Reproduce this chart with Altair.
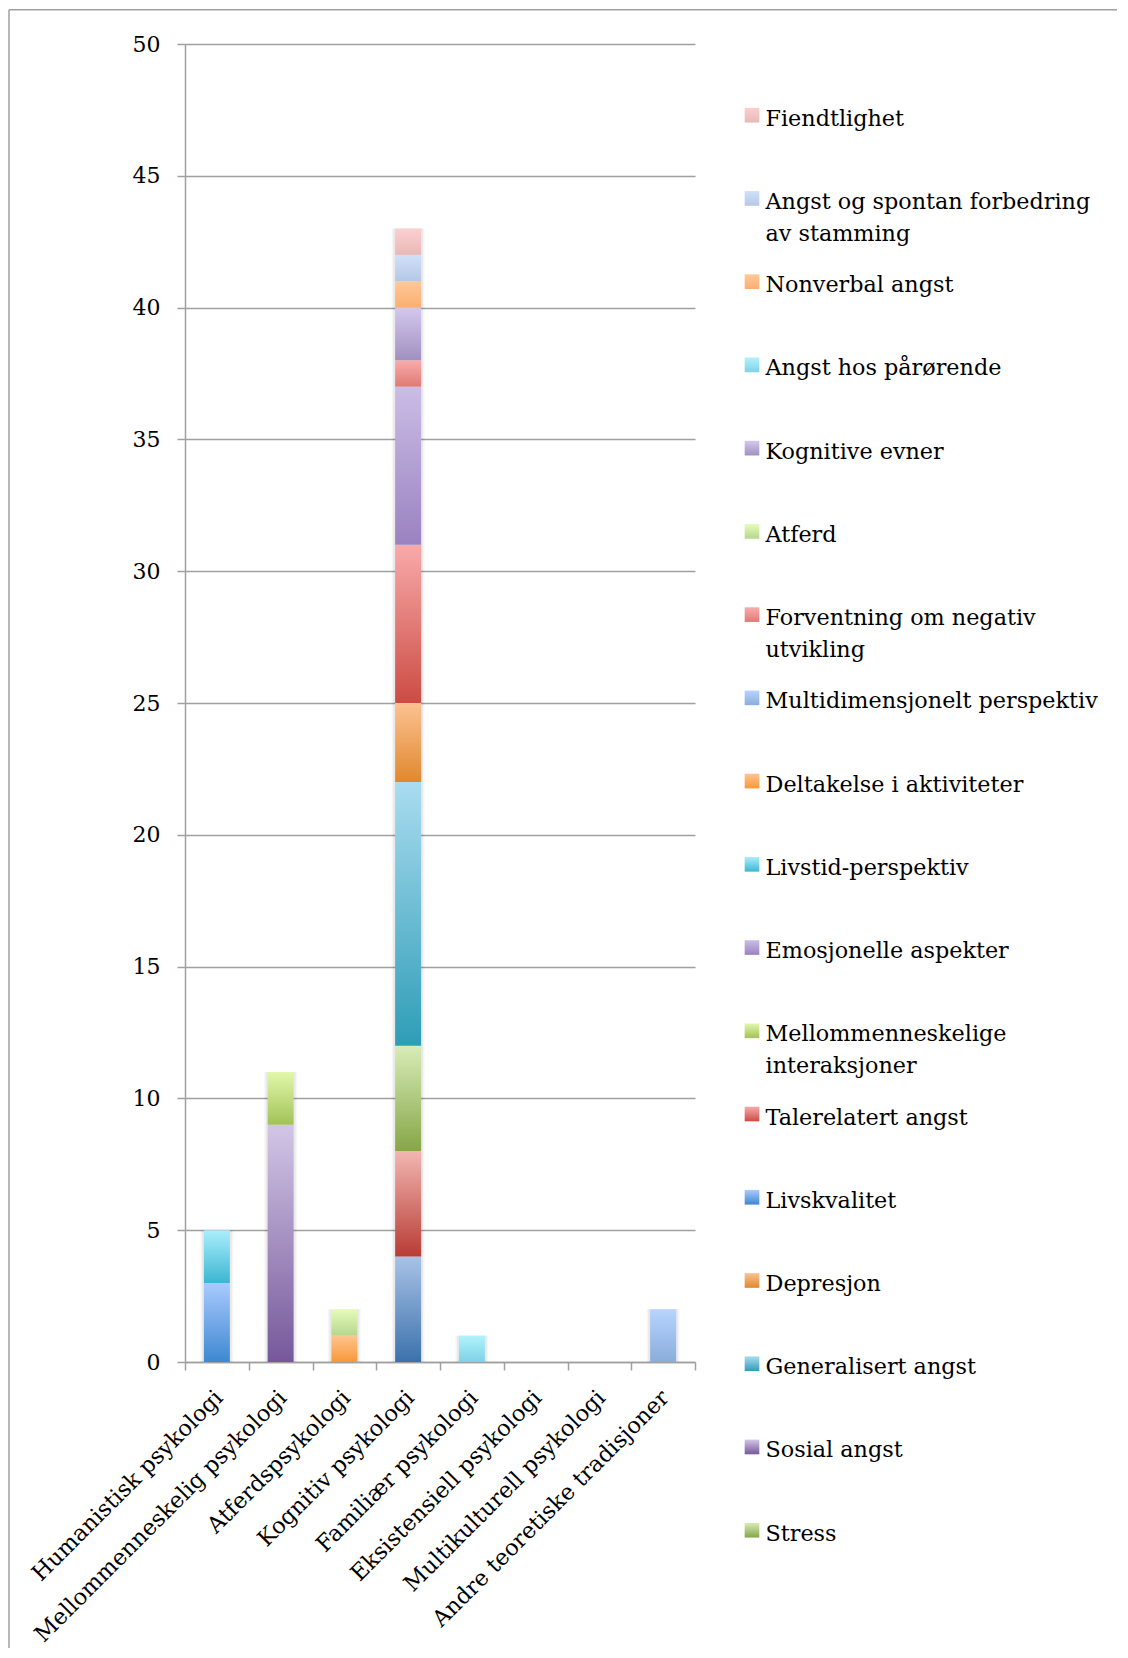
import altair as alt
import pandas as pd

# ---------------- data ----------------
categories = [
    "Humanistisk psykologi",
    "Mellommenneskelig psykologi",
    "Atferdspsykologi",
    "Kognitiv psykologi",
    "Familiær psykologi",
    "Eksistensiell psykologi",
    "Multikulturell psykologi",
    "Andre teoretiske tradisjoner",
]

# stacking order, bottom -> top (first two series have no visible legend entry)
series_names = [
    "Serie 1",
    "Serie 2",
    "Stress",
    "Sosial angst",
    "Generalisert angst",
    "Depresjon",
    "Livskvalitet",
    "Talerelatert angst",
    "Mellommenneskelige interaksjoner",
    "Emosjonelle aspekter",
    "Livstid-perspektiv",
    "Deltakelse i aktiviteter",
    "Multidimensjonelt perspektiv",
    "Forventning om negativ utvikling",
    "Atferd",
    "Kognitive evner",
    "Angst hos pårørende",
    "Nonverbal angst",
    "Angst og spontan forbedring av stamming",
    "Fiendtlighet",
]

series_values = {
    "Serie 1":                                 [0, 0, 0, 4, 0, 0, 0, 0],
    "Serie 2":                                 [0, 0, 0, 4, 0, 0, 0, 0],
    "Stress":                                  [0, 0, 0, 4, 0, 0, 0, 0],
    "Sosial angst":                            [0, 9, 0, 0, 0, 0, 0, 0],
    "Generalisert angst":                      [0, 0, 0, 10, 0, 0, 0, 0],
    "Depresjon":                               [0, 0, 0, 3, 0, 0, 0, 0],
    "Livskvalitet":                            [3, 0, 0, 0, 0, 0, 0, 0],
    "Talerelatert angst":                      [0, 0, 0, 6, 0, 0, 0, 0],
    "Mellommenneskelige interaksjoner":        [0, 2, 0, 0, 0, 0, 0, 0],
    "Emosjonelle aspekter":                    [0, 0, 0, 6, 0, 0, 0, 0],
    "Livstid-perspektiv":                      [2, 0, 0, 0, 0, 0, 0, 0],
    "Deltakelse i aktiviteter":                [0, 0, 1, 0, 0, 0, 0, 0],
    "Multidimensjonelt perspektiv":            [0, 0, 0, 0, 0, 0, 0, 2],
    "Forventning om negativ utvikling":        [0, 0, 0, 1, 0, 0, 0, 0],
    "Atferd":                                  [0, 0, 1, 0, 0, 0, 0, 0],
    "Kognitive evner":                         [0, 0, 0, 2, 0, 0, 0, 0],
    "Angst hos pårørende":                     [0, 0, 0, 0, 1, 0, 0, 0],
    "Nonverbal angst":                         [0, 0, 0, 1, 0, 0, 0, 0],
    "Angst og spontan forbedring av stamming": [0, 0, 0, 1, 0, 0, 0, 0],
    "Fiendtlighet":                            [0, 0, 0, 1, 0, 0, 0, 0],
}

# gradient colours (bottom, top) per series
bottom_colors = {
    "Serie 1": "#3b72ac", "Serie 2": "#b83c34", "Stress": "#86a646",
    "Sosial angst": "#76589a", "Generalisert angst": "#2e9db6",
    "Depresjon": "#e0882e", "Livskvalitet": "#3d88d0",
    "Talerelatert angst": "#cc4c44", "Mellommenneskelige interaksjoner": "#a2c258",
    "Emosjonelle aspekter": "#9a82c0", "Livstid-perspektiv": "#3cb6d2",
    "Deltakelse i aktiviteter": "#f7983a", "Multidimensjonelt perspektiv": "#8aadda",
    "Forventning om negativ utvikling": "#e07a74", "Atferd": "#b6d68e",
    "Kognitive evner": "#a090c0", "Angst hos pårørende": "#7ed2e6",
    "Nonverbal angst": "#fcae70", "Angst og spontan forbedring av stamming": "#b4c8e6",
    "Fiendtlighet": "#e8b8b8",
}
top_colors = {
    "Serie 1": "#a9c2e6", "Serie 2": "#f2b6b2", "Stress": "#d8ecb8",
    "Sosial angst": "#d2c6e6", "Generalisert angst": "#aadcf0",
    "Depresjon": "#fcc292", "Livskvalitet": "#aacaff",
    "Talerelatert angst": "#f8aaaa", "Mellommenneskelige interaksjoner": "#e2f8aa",
    "Emosjonelle aspekter": "#cbbde6", "Livstid-perspektiv": "#aaeefc",
    "Deltakelse i aktiviteter": "#ffc48e", "Multidimensjonelt perspektiv": "#b8d4ff",
    "Forventning om negativ utvikling": "#f8acac", "Atferd": "#e6fcba",
    "Kognitive evner": "#d4c8ee", "Angst hos pårørende": "#b2f2fc",
    "Nonverbal angst": "#ffc898", "Angst og spontan forbedring av stamming": "#d0e0f8",
    "Fiendtlighet": "#fcd0d0",
}

# legend entries, top -> bottom
legend_series = [
    "Fiendtlighet",
    "Angst og spontan forbedring av stamming",
    "Nonverbal angst",
    "Angst hos pårørende",
    "Kognitive evner",
    "Atferd",
    "Forventning om negativ utvikling",
    "Multidimensjonelt perspektiv",
    "Deltakelse i aktiviteter",
    "Livstid-perspektiv",
    "Emosjonelle aspekter",
    "Mellommenneskelige interaksjoner",
    "Talerelatert angst",
    "Livskvalitet",
    "Depresjon",
    "Generalisert angst",
    "Sosial angst",
    "Stress",
]
legend_labels = [
    "Fiendtlighet",
    "Angst og spontan forbedring\nav stamming",
    "Nonverbal angst",
    "Angst hos pårørende",
    "Kognitive evner",
    "Atferd",
    "Forventning om negativ\nutvikling",
    "Multidimensjonelt perspektiv",
    "Deltakelse i aktiviteter",
    "Livstid-perspektiv",
    "Emosjonelle aspekter",
    "Mellommenneskelige\ninteraksjoner",
    "Talerelatert angst",
    "Livskvalitet",
    "Depresjon",
    "Generalisert angst",
    "Sosial angst",
    "Stress",
]

y_ticks = list(range(0, 51, 5))

# ---------------- build ----------------
FONT = "DejaVu Serif"
W, H = 510, 1318
GRAY = "#a0a0a0"


def grad(bottom, top):
    return {
        "gradient": "linear",
        "x1": 0, "y1": 1, "x2": 0, "y2": 0,
        "stops": [{"offset": 0, "color": bottom}, {"offset": 1, "color": top}],
    }


rows = []
for si, name in enumerate(series_names):
    for ci, cat in enumerate(categories):
        v = series_values[name][ci]
        if v > 0:
            rows.append({"kategori": cat, "serie": name, "rekkefolge": si, "antall": v})
df = pd.DataFrame(rows)

x_enc = alt.X(
    "kategori:N",
    sort=categories,
    scale=alt.Scale(domain=categories, paddingInner=0, paddingOuter=0),
    axis=alt.Axis(
        title=None,
        labelAngle=-45,
        labelAlign="right",
        labelBaseline="top",
        labelPadding=16,
        labelOffset=-6,
        labelFontSize=22.5,
        labelFont=FONT,
        labelColor="black",
        labelLimit=500,
        tickBand="extent",
        tickSize=8,
        tickColor=GRAY,
        tickWidth=1.5,
        domainColor=GRAY,
        domainWidth=1.5,
        grid=False,
    ),
)
y_axis = alt.Axis(
    title=None,
    values=y_ticks,
    grid=True,
    gridColor=GRAY,
    gridWidth=1.5,
    tickSize=8,
    tickColor=GRAY,
    tickWidth=1.5,
    domainColor=GRAY,
    domainWidth=1.5,
    labelPadding=17,
    labelFontSize=22,
    labelFont=FONT,
    labelColor="black",
)
y_scale = alt.Scale(domain=[0, 50], nice=False)

base = alt.Chart(df).transform_stack(
    stack="antall",
    groupby=["kategori"],
    as_=["y0", "y1"],
    sort=[alt.SortField("rekkefolge", order="ascending")],
)

# soft shadow behind each stacked column
shadow_base = alt.Chart(df).transform_aggregate(total="sum(antall)", groupby=["kategori"])
shadow_layers = [
    shadow_base.mark_bar(size=sz, color="#000000", opacity=op, strokeWidth=0).encode(
        x=x_enc,
        y=alt.Y("total:Q", scale=y_scale, axis=y_axis),
        y2=alt.datum(0),
    )
    for sz, op in [(33, 0.035), (30, 0.05)]
]

bar_layers = []
for name in series_names:
    bar_layers.append(
        base.transform_filter(alt.datum.serie == name)
        .mark_bar(size=26, fill=grad(bottom_colors[name], top_colors[name]), strokeWidth=0)
        .encode(
            x=x_enc,
            y=alt.Y("y0:Q", scale=y_scale, axis=y_axis),
            y2="y1:Q",
        )
    )
bars = alt.layer(*shadow_layers, *bar_layers)

# legend
leg_df = pd.DataFrame({
    "navn": legend_labels,
    "serie": legend_series,
    "idx": list(range(len(legend_series))),
})
leg_y = alt.Y(
    "idx:Q",
    scale=alt.Scale(domain=[0, 17], range=[71.2, 1486.2], nice=False, zero=False),
    axis=None,
)
leg_base = alt.Chart(leg_df)
leg_layers = []
for name in legend_series:
    leg_layers.append(
        leg_base.transform_filter(alt.datum.serie == name)
        .mark_point(shape="square", filled=True, size=215, opacity=1, strokeWidth=0,
                    fill=grad(bottom_colors[name], top_colors[name]))
        .encode(x=alt.value(567), y=leg_y)
    )
leg_layers.append(
    leg_base.mark_text(
        align="left", baseline="alphabetic", dy=10.5, fontSize=22.3, font=FONT,
        lineBreak="\n", lineHeight=32, color="black",
    ).encode(x=alt.value(580.5), y=leg_y, text="navn:N")
)
legend = alt.layer(*leg_layers)

# outer chart-area border (top and left edges visible in the reference)
frame_df = pd.DataFrame({"k": [0]})
frame_top = alt.Chart(frame_df).mark_rule(color=GRAY, strokeWidth=1.5).encode(
    x=alt.value(-176), x2=alt.value(932), y=alt.value(-34.3)
)
frame_left = alt.Chart(frame_df).mark_rule(color=GRAY, strokeWidth=1.5).encode(
    x=alt.value(-176), y=alt.value(-34.3), y2=alt.value(1604)
)

chart = (
    alt.layer(bars, legend, frame_top, frame_left)
    .resolve_scale(y="independent")
    .properties(width=W, height=H, padding=0, background="white")
    .configure(font=FONT)
    .configure_view(strokeWidth=0, stroke="transparent")
)

chart.save("out.html", embed_options={"renderer": "svg", "actions": False})
